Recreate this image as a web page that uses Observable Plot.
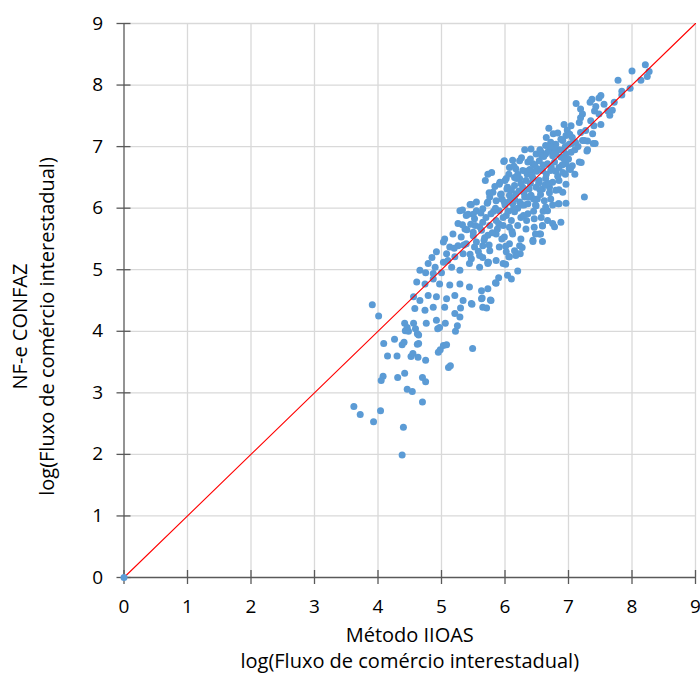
<!DOCTYPE html>
<html>
<head>
<meta charset="utf-8">
<script src="https://cdn.jsdelivr.net/npm/d3@7"></script>
<script src="https://cdn.jsdelivr.net/npm/@observablehq/plot@0.6"></script>
<style>
  html, body { margin: 0; padding: 0; background: #ffffff; }
  #chart { width: 700px; height: 673px; overflow: hidden; }
</style>
</head>
<body>
<div id="chart"></div>
<script>
// Método IIOAS (x) — log(Fluxo de comércio interestadual)
const iioas = [
3.91,4.01,4.42,4.46,4.43,4.48,4.56,4.59,4.62,4.64,4.76,4.92,4.94,4.97,5.06,5.22,5.25,4.09,4.26,4.38,4.41,4.62,4.64,4.15,4.30,4.52,4.55,4.63,4.75,4.95,4.98,5.03,5.08,5.49,4.08,4.05,4.31,4.42,4.70,4.75,5.11,5.14,4.46,4.54,4.70,3.62,3.72,4.04,3.93,4.40,4.38,
6.69,6.76,6.83,6.93,6.98,7.04,7.06,7.17,7.19,7.27,7.38,7.39,6.96,6.91,6.80,6.72,7.01,7.11,7.22,7.30,6.64,
6.31,6.41,6.49,6.57,6.64,6.72,6.80,6.88,6.96,7.04,7.06,7.17,5.98,6.12,6.23,6.36,6.44,6.54,6.67,6.78,6.85,6.96,7.01,6.17,6.28,6.41,6.51,6.59,6.72,5.73,6.07,6.91,
6.02,6.15,6.23,6.33,6.44,6.54,6.64,6.75,6.85,6.96,5.91,6.04,6.15,6.28,6.38,6.49,6.59,6.70,6.80,6.91,5.81,5.94,6.07,6.17,6.31,6.41,6.51,6.62,6.72,6.84,6.96,7.25,6.64,6.49,6.36,6.23,6.12,5.99,5.86,5.73,5.76,
5.45,5.55,5.65,5.78,5.91,6.02,6.15,6.25,6.36,6.46,6.57,6.67,6.75,6.88,5.29,5.39,5.52,5.65,5.76,5.86,5.97,6.07,6.20,6.33,6.46,6.59,6.78,5.26,5.37,5.50,5.63,5.73,5.86,5.99,6.12,6.25,6.44,6.54,5.05,5.18,5.31,
5.03,5.13,5.26,5.39,5.52,5.65,5.76,5.91,6.02,6.15,6.23,6.07,4.92,5.08,5.21,5.34,5.47,5.60,5.73,5.86,5.97,6.07,6.20,4.79,4.90,5.03,5.16,5.29,5.44,5.60,5.73,6.04,6.20,4.87,4.66,
4.61,4.74,4.87,4.97,5.13,5.29,5.44,5.63,5.73,5.86,4.56,4.66,4.79,4.92,5.08,5.21,5.34,5.47,5.63,5.78,4.58,4.74,4.87,5.05,5.21,5.29,5.65,
8.21,8.27,8.24,8.14,8.00,7.78,7.84,7.97,7.84,7.72,7.51,7.48,7.37,7.34,7.12,7.19,7.22,7.56,7.62,7.69,7.65,7.43,7.41,7.48,7.35,7.19,7.51,
5.55,5.60,5.70,5.80,5.85,5.90,5.95,6.00,6.05,6.10,6.15,6.20,6.25,6.30,6.35,6.40,6.45,6.50,6.55,6.60,6.65,6.70,6.75,6.80,6.85,6.90,6.95,7.00,7.05,7.10,
5.40,5.35,5.45,5.50,5.65,5.75,5.20,5.10,5.00,4.85,4.75,5.95,6.10,6.30,6.45,6.00,6.20,5.75,5.55,6.40,6.55,6.65,7.15,7.25,7.30,7.10,6.95,6.85,6.75,6.60,
5.47,5.50,5.33,5.46,5.99,5.33,6.67,6.85,6.44,6.59,6.56,
6.59,6.48,6.27,6.24,6.17,6.06,6.01,6.10,
7.42,7.40,7.29,7.03,7.20,
5.74,5.85,5.90,5.64,5.77,5.48,5.71,5.30,
5.62,5.68,5.72,5.82,5.88,5.93,5.97,6.03,6.08,6.13,6.18,6.22,6.27,6.33,6.38,6.43,6.47,6.53,6.58,6.63,6.68,6.73,6.78,6.83,6.88,6.93,5.58,5.67,5.84,5.92,6.06,6.14,6.26,6.34,6.48,6.56,6.69,6.77,6.92,7.02,5.42,5.53,5.69,5.79,6.01,6.11,6.29,6.39,6.61,6.71
];
// NF-e CONFAZ (y) — log(Fluxo de comércio interestadual)
const confaz = [
4.43,4.25,4.13,4.06,4.01,4.00,4.13,4.04,3.96,3.94,4.13,4.18,4.04,4.06,4.13,4.00,4.09,3.80,3.87,3.78,3.82,3.79,3.80,3.60,3.60,3.59,3.64,3.58,3.53,3.66,3.70,3.77,3.78,3.72,3.27,3.20,3.25,3.32,3.25,3.18,3.41,3.44,3.06,3.02,2.85,2.78,2.65,2.71,2.53,2.44,1.99,
7.30,7.21,7.22,7.36,7.27,7.34,7.15,7.39,7.23,7.26,7.21,7.05,7.18,7.10,7.04,7.07,7.04,7.07,7.10,7.09,7.02,
6.95,6.96,6.88,6.91,6.88,6.94,6.88,6.83,6.88,6.91,6.69,6.75,6.76,6.78,6.77,6.75,6.72,6.77,6.72,6.75,6.66,6.72,6.64,6.64,6.61,6.61,6.64,6.61,6.61,6.55,6.66,6.58,
6.48,6.50,6.48,6.45,6.48,6.45,6.48,6.42,6.45,6.39,6.39,6.34,6.37,6.34,6.31,6.34,6.31,6.34,6.29,6.26,6.26,6.23,6.21,6.23,6.18,6.21,6.15,6.12,6.15,6.07,6.08,6.18,6.02,6.04,6.07,6.10,6.07,6.10,6.12,6.10,6.18,
6.06,5.96,5.99,5.91,5.96,5.88,5.94,5.85,5.91,5.83,5.85,5.80,5.75,5.77,5.96,5.88,5.83,5.77,5.72,5.80,5.72,5.69,5.72,5.66,5.69,5.72,5.70,5.75,5.66,5.61,5.64,5.56,5.58,5.53,5.58,5.50,5.48,5.58,5.50,5.58,5.53,
5.45,5.37,5.39,5.42,5.37,5.39,5.31,5.37,5.29,5.31,5.39,5.42,5.29,5.26,5.21,5.26,5.18,5.23,5.12,5.15,5.10,5.21,5.26,5.10,5.04,5.12,5.04,4.99,5.10,5.04,5.10,4.91,4.98,4.94,4.99,
4.80,4.77,4.85,4.77,4.75,4.77,4.72,4.66,4.69,4.78,4.56,4.50,4.58,4.56,4.53,4.58,4.50,4.45,4.53,4.50,4.37,4.34,4.39,4.39,4.29,4.23,4.39,
8.33,8.22,8.14,8.08,8.23,8.08,7.90,7.95,7.84,7.72,7.83,7.79,7.77,7.72,7.70,7.61,7.53,7.69,7.58,7.59,7.51,7.65,7.58,7.53,7.42,7.47,7.36,
5.45,5.70,5.85,5.60,6.00,5.75,6.15,6.05,5.95,6.30,6.15,6.00,6.40,6.25,6.55,6.40,6.15,6.60,6.30,6.70,6.55,6.25,6.85,6.60,6.95,6.70,7.00,6.80,7.05,6.95,
5.65,5.40,5.25,5.55,5.20,5.40,5.35,5.15,4.95,5.20,4.95,5.50,5.80,6.05,5.95,6.45,6.55,6.25,6.10,6.80,6.95,7.15,7.00,7.10,6.95,6.55,6.55,6.30,6.05,5.95,
6.06,5.90,5.73,5.74,6.77,5.97,5.96,6.07,5.46,5.46,5.58,
5.71,5.58,5.36,5.26,5.23,5.21,5.09,4.85,
7.05,7.34,6.93,6.63,6.74,
5.12,4.79,4.87,4.54,4.51,4.44,4.38,4.38,
5.92,5.52,6.08,5.95,5.66,6.22,5.85,6.31,6.12,5.98,6.48,6.28,6.05,6.60,6.18,6.52,6.70,6.41,6.85,6.38,6.92,6.66,6.98,6.52,7.12,6.80,5.30,5.48,6.35,6.42,6.55,6.68,6.82,5.80,6.05,6.22,6.40,6.88,6.95,7.20,5.90,5.72,6.45,6.58,5.38,5.62,5.88,6.63,6.84,7.00
];
const axisTicks = [0,1,2,3,4,5,6,7,8,9];
const tickLabels = ["0","1","2","3","4","5","6","7","8","9"];
const gridLines = [1,2,3,4,5,6,7,8,9];
const diagonal = [{x:0,y:0},{x:9,y:9}];
const origin = [{x:0,y:0}];
const xTitle = ["Método IIOAS", "log(Fluxo de comércio interestadual)"];
const yTitle = ["NF-e CONFAZ", "log(Fluxo de comércio interestadual)"];

const points = iioas.map((x, i) => ({x, y: confaz[i]}));
const axisColor = "#595959";
const font = "Open Sans, Noto Sans, sans-serif";

const chart = Plot.plot({
  width: 700,
  height: 673,
  marginLeft: 123.5,
  marginRight: 5,
  marginTop: 23,
  marginBottom: 96,
  x: {domain: [0, 9]},
  y: {domain: [0, 9]},
  style: {fontFamily: font, fontSize: "19px", color: "#000", background: "#fff", overflow: "visible"},
  marks: [
    Plot.gridX(gridLines, {stroke: "#d9d9d9", strokeOpacity: 1, strokeWidth: 1.3}),
    Plot.gridY(gridLines, {stroke: "#d9d9d9", strokeOpacity: 1, strokeWidth: 1.3}),
    Plot.dot(points, {x: "x", y: "y", r: 3.5, fill: "#5b9bd5", stroke: "none"}),
    Plot.line(diagonal, {x: "x", y: "y", stroke: "#ff0000", strokeWidth: 1.1}),
    Plot.ruleY([0], {stroke: axisColor, strokeWidth: 1.3}),
    Plot.ruleX([0], {stroke: axisColor, strokeWidth: 1.3}),
    Plot.ruleX(axisTicks, {x: d => d, y1: d => 0, y2: d => 0, insetTop: -7, insetBottom: -7, stroke: axisColor, strokeWidth: 1.3}),
    Plot.ruleY(axisTicks, {y: d => d, x1: d => 0, x2: d => 0, insetLeft: -7, insetRight: -7, stroke: axisColor, strokeWidth: 1.3}),
    Plot.dot(origin, {x: "x", y: "y", r: 3.5, fill: "#5b9bd5"}),
    Plot.axisX(axisTicks, {tickSize: 0, tickPadding: 22, tickFormat: (d, i) => tickLabels[i], label: null, fontSize: 19}),
    Plot.axisY(axisTicks, {tickSize: 0, tickPadding: 21, tickFormat: (d, i) => tickLabels[i], label: null, fontSize: 19}),
    Plot.text([xTitle[0]], {frameAnchor: "bottom", dy: 58, textAnchor: "middle", lineAnchor: "middle", text: d => d, fontSize: 20}),
    Plot.text([xTitle[1]], {frameAnchor: "bottom", dy: 84, textAnchor: "middle", lineAnchor: "middle", text: d => d, fontSize: 20}),
    Plot.text([yTitle[0]], {frameAnchor: "left", dx: -103, dy: 26, rotate: -90, textAnchor: "middle", lineAnchor: "middle", text: d => d, fontSize: 20}),
    Plot.text([yTitle[1]], {frameAnchor: "left", dx: -76, dy: 26, rotate: -90, textAnchor: "middle", lineAnchor: "middle", text: d => d, fontSize: 20})
  ]
});
document.getElementById("chart").appendChild(chart);
</script>
</body>
</html>
